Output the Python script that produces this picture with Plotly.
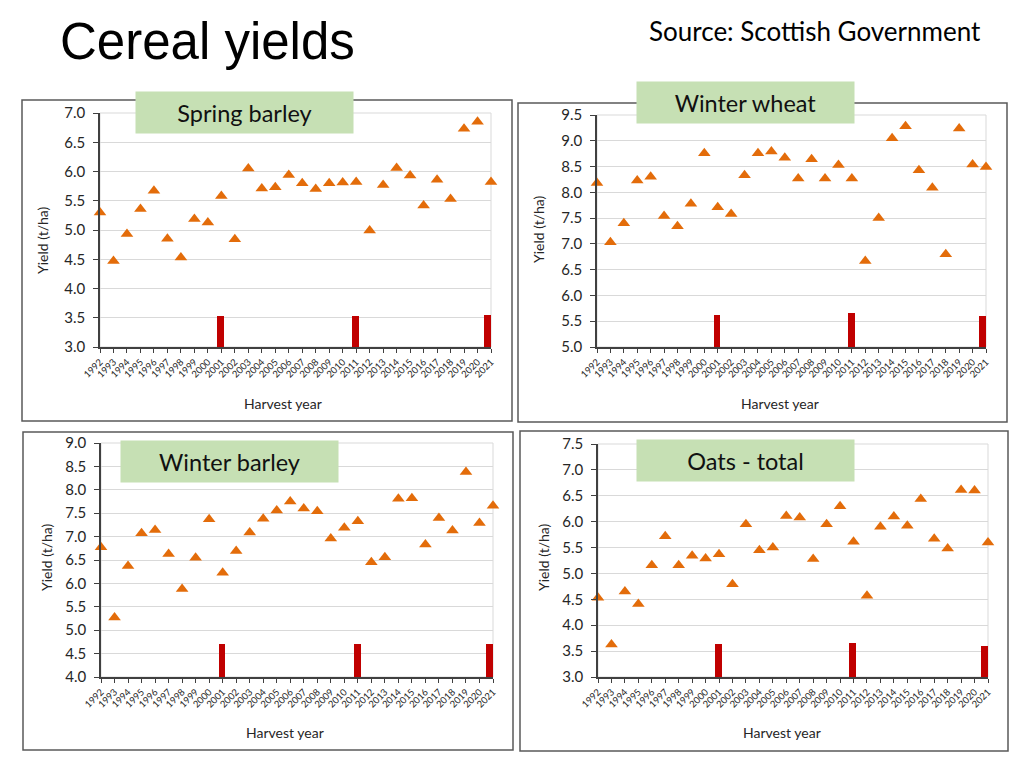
import plotly.graph_objects as go

# ---------------- data ----------------
years = list(range(1992, 2022))
year_labels = [str(y) for y in years]

spring_barley = [5.30, 4.47, 4.93, 5.36, 5.67, 4.85, 4.53, 5.19, 5.13, 5.58,
                 4.84, 6.05, 5.71, 5.73, 5.94, 5.80, 5.70, 5.80, 5.81, 5.82,
                 4.99, 5.77, 6.06, 5.93, 5.42, 5.86, 5.53, 6.73, 6.85, 5.82]
winter_wheat = [8.18, 7.03, 7.40, 8.23, 8.30, 7.54, 7.34, 7.78, 8.76, 7.71,
                7.58, 8.33, 8.76, 8.79, 8.67, 8.27, 8.64, 8.27, 8.53, 8.27,
                6.67, 7.50, 9.05, 9.28, 8.43, 8.09, 6.80, 9.24, 8.54, 8.49]
winter_barley = [6.77, 5.27, 6.37, 7.07, 7.14, 6.63, 5.88, 6.55, 7.37, 6.23,
                 6.69, 7.09, 7.38, 7.56, 7.75, 7.60, 7.54, 6.96, 7.19, 7.33,
                 6.45, 6.56, 7.81, 7.82, 6.83, 7.40, 7.13, 8.38, 7.29, 7.66]
oats_total = [4.53, 3.63, 4.65, 4.41, 5.16, 5.72, 5.16, 5.34, 5.29, 5.37,
              4.79, 5.95, 5.45, 5.50, 6.11, 6.08, 5.28, 5.95, 6.30, 5.61,
              4.57, 5.90, 6.10, 5.92, 6.44, 5.67, 5.48, 6.61, 6.60, 5.60]

# red marker bars (tops, in t/ha) at these harvest years
bar_years = [2001, 2011, 2021]
spring_barley_bars = [3.53, 3.53, 3.54]
winter_wheat_bars = [5.63, 5.66, 5.61]
winter_barley_bars = [4.70, 4.70, 4.70]
oats_total_bars = [3.63, 3.65, 3.60]

panel_names = ["Spring barley", "Winter wheat", "Winter barley", "Oats - total"]
y_ranges = [(3.0, 7.0), (5.0, 9.5), (4.0, 9.0), (3.0, 7.5)]

# ---------------- layout geometry (pixels in the 1024x768 picture) ----------------
W, H = 1024, 768
PAGE_MARGIN = 8  # default <body> margin of the html page
plot_px = [  # x0, x1, y_top, y_bottom
    (100, 491, 113, 347),
    (597, 986, 115, 347),
    (101, 493, 443, 677),
    (598, 988, 444, 677),
]
panel_px = [  # outer border boxes
    (22, 512, 100, 421),
    (518, 1007, 103, 422),
    (23, 513, 432, 750),
    (520, 1008, 431, 751),
]
label_px = [  # green label box centres
    (244.5, 112.5),
    (745, 102.5),
    (229.5, 461),
    (745, 460.5),
]
ytitle_px = [(43, 240), (538, 229), (46, 557), (543, 557)]
xtitle_px = [(283, 403), (780, 403), (285, 732), (782, 732)]


def px_x(x):
    return (x - PAGE_MARGIN) / W


def px_y(y):
    return 1 - (y - PAGE_MARGIN) / H


ORANGE = "#E36C0A"
RED = "#C00000"
GRID = "#D9D9D9"
AXIS = "#404040"
TXT = "#262626"
FONT = "Lato"

series = [spring_barley, winter_wheat, winter_barley, oats_total]
bars = [spring_barley_bars, winter_wheat_bars, winter_barley_bars, oats_total_bars]
bar_offsets = [-0.3, -0.3, -0.5]   # keep the last bar inside the plot area

fig = go.Figure()
shapes = []
annotations = []

for i in range(4):
    n = "" if i == 0 else str(i + 1)
    xa, ya = "x" + n, "y" + n
    ymin, ymax = y_ranges[i]

    fig.add_trace(go.Bar(
        x=bar_years, y=[b - ymin for b in bars[i]], base=ymin,
        width=0.5, offset=bar_offsets,
        marker=dict(color=RED, line=dict(width=0)),
        xaxis=xa, yaxis=ya, showlegend=False,
        hoverinfo="skip"))
    fig.add_trace(go.Scatter(
        x=years, y=series[i], mode="markers",
        marker=dict(symbol="triangle-up", size=11, color=ORANGE),
        xaxis=xa, yaxis=ya, showlegend=False, cliponaxis=False,
        name=panel_names[i]))

    x0, x1, yt, yb = plot_px[i]
    fig.update_layout(**{
        "xaxis" + n: dict(
            domain=[px_x(x0), px_x(x1)], range=[1992, 2021], anchor=ya,
            tickmode="array", tickvals=years, ticktext=year_labels,
            tickangle=-45, tickfont=dict(family=FONT, size=9.5, color=TXT),
            showgrid=False, zeroline=False, showline=True, automargin=False,
            linecolor=AXIS, linewidth=1.5, ticks="outside", ticklen=4,
            tickcolor=AXIS, tickwidth=1, fixedrange=True),
        "yaxis" + n: dict(
            domain=[px_y(yb), px_y(yt)], range=[ymin, ymax], anchor=xa,
            dtick=0.5, tick0=0, tickformat=".1f", automargin=False,
            tickfont=dict(family=FONT, size=15, color=TXT),
            showgrid=True, gridcolor=GRID, gridwidth=1, zeroline=False,
            showline=True, linecolor=AXIS, linewidth=1.5,
            ticks="outside", ticklen=5, tickcolor=AXIS, tickwidth=1,
            ticklabelstandoff=5, fixedrange=True),
    })

    # light plot-area frame
    shapes.append(dict(type="rect", xref=xa + " domain", yref=ya + " domain",
                       x0=0, x1=1, y0=0, y1=1,
                       line=dict(color=GRID, width=1), layer="below"))
    # outer panel border
    bx0, bx1, byt, byb = panel_px[i]
    shapes.append(dict(type="rect", xref="paper", yref="paper",
                       x0=px_x(bx0), x1=px_x(bx1), y0=px_y(byb), y1=px_y(byt),
                       line=dict(color="#595959", width=1.5), layer="below"))

    # green label
    lx, ly = label_px[i]
    annotations.append(dict(
        x=px_x(lx), y=px_y(ly), xref="paper", yref="paper",
        text=panel_names[i], showarrow=False, xanchor="center", yanchor="middle",
        width=217, height=41, bgcolor="#C6E0B4", borderpad=0,
        font=dict(family=FONT, size=23.5, color="#111111")))
    # axis titles
    tx, ty = ytitle_px[i]
    annotations.append(dict(
        x=px_x(tx), y=px_y(ty), xref="paper", yref="paper", text="Yield (t/ha)",
        textangle=-90, showarrow=False, xanchor="center", yanchor="middle",
        font=dict(family=FONT, size=14, color=TXT)))
    hx, hy = xtitle_px[i]
    annotations.append(dict(
        x=px_x(hx), y=px_y(hy), xref="paper", yref="paper", text="Harvest year",
        showarrow=False, xanchor="center", yanchor="middle",
        font=dict(family=FONT, size=14, color=TXT)))

annotations.append(dict(
    x=px_x(58), y=px_y(41), xref="paper", yref="paper", text="Cereal yields",
    showarrow=False, xanchor="left", yanchor="middle",
    font=dict(family="Liberation Sans", size=51, color="#000000")))
annotations.append(dict(
    x=px_x(815), y=px_y(31), xref="paper", yref="paper",
    text="Source: Scottish Government",
    showarrow=False, xanchor="center", yanchor="middle",
    font=dict(family=FONT, size=26, color="#000000")))

fig.update_layout(
    width=W, height=H, margin=dict(l=0, r=0, t=0, b=0, pad=0, autoexpand=False),
    paper_bgcolor="white", plot_bgcolor="white", showlegend=False,
    shapes=shapes, annotations=annotations, bargap=0,
)

fig.write_html("out.html", config={"displayModeBar": False})
